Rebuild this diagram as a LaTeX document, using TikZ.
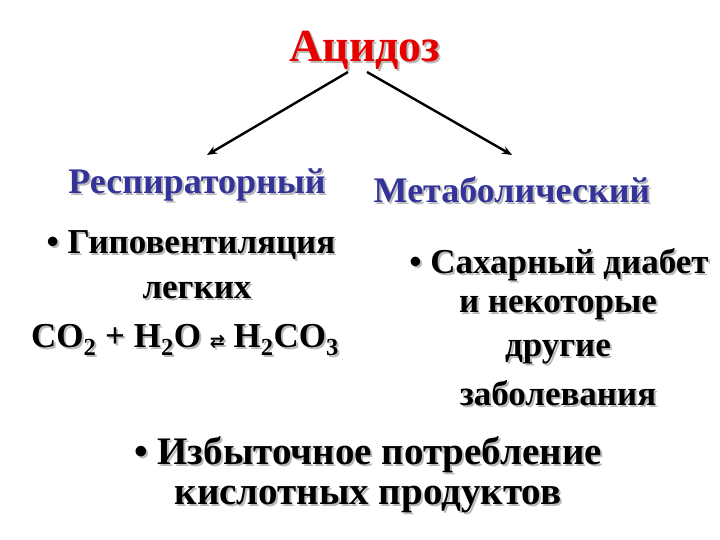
\documentclass[tikz,border=0pt]{standalone}
\usetikzlibrary{arrows.meta}
\usepackage{fontspec}
\setmainfont{Liberation Serif}
\newfontfamily\djv{DejaVu Sans}
\definecolor{tred}{RGB}{230,0,0}
\definecolor{tblue}{RGB}{51,51,153}
\newcommand\shtxt[4]{% name, pos, style, text
  \node[#3,text=gray!55] (#1s) at ([xshift=2pt,yshift=-2pt]#2) {#4};
  \node[#3] (#1) at (#2) {#4};}
\begin{document}
\begin{tikzpicture}[x=1pt,y=-1pt,
  lbl/.style={font=\bfseries\fontsize{35}{38}\selectfont,inner sep=0pt,align=center},
  head/.style={font=\bfseries\fontsize{36}{40}\selectfont,inner sep=0pt,text=tblue},
  ttl/.style={font=\bfseries\fontsize{46}{50}\selectfont,inner sep=0pt,text=tred},
  arr/.style={-{Stealth[length=10pt,width=8pt]},line width=2.4pt}]
\useasboundingbox (0,0) rectangle (720,540);
\shtxt{t}{365,50}{ttl}{Ацидоз}
\shtxt{r}{197,185}{head}{Респираторный}
\shtxt{m}{512,190}{head}{Метаболический}
\shtxt{l1}{191,245}{lbl}{• Гиповентиляция}
\shtxt{l2}{197,290}{lbl}{легких}
\shtxt{l3}{185,340}{lbl}{CO\textsubscript{2} + H\textsubscript{2}O {\djv\fontsize{18}{20}\selectfont ⇄} H\textsubscript{2}CO\textsubscript{3}}
\shtxt{r1}{559,265}{lbl}{• Сахарный диабет}
\shtxt{r2}{558,308}{lbl}{и некоторые}
\shtxt{r3}{558,352}{lbl}{другие}
\shtxt{r4}{558,393}{lbl}{заболевания}
\shtxt{b1}{368,455}{lbl,font=\bfseries\fontsize{39}{42}\selectfont}{• Избыточное потребление}
\shtxt{b2}{368,500}{lbl,font=\bfseries\fontsize{39}{42}\selectfont}{кислотных продуктов}
\coordinate (a1) at (348,72); \coordinate (a2) at (367,72);
\coordinate (e1) at (207,155); \coordinate (e2) at (512,155);
\draw[arr] (a1) -- (e1);
\draw[arr] (a2) -- (e2);
\end{tikzpicture}
\end{document}
